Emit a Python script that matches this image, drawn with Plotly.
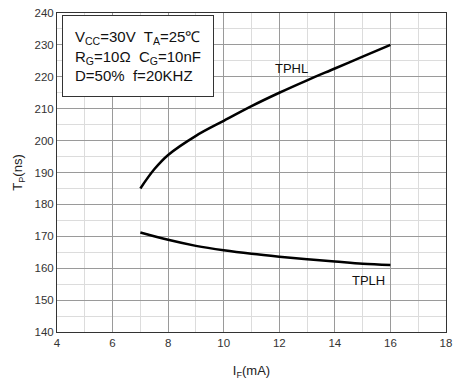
import plotly.graph_objects as go

# Data
if_tphl = [7, 7.5, 8, 9, 10, 11, 12, 13, 14, 15, 16]
tphl = [185, 191, 195.5, 201.5, 206.2, 210.8, 215, 218.9, 222.6, 226.3, 230]
if_tplh = [7, 8, 9, 10, 11, 12, 13, 14, 15, 16]
tplh = [171.2, 168.9, 167.0, 165.6, 164.5, 163.6, 162.8, 162.1, 161.4, 161.0]

x_ticks = [4, 6, 8, 10, 12, 14, 16, 18]
y_ticks = [140, 150, 160, 170, 180, 190, 200, 210, 220, 230, 240]

FONT = "Liberation Sans, Arial, sans-serif"

fig = go.Figure()
fig.add_trace(go.Scatter(x=if_tphl, y=tphl, mode="lines",
                         line=dict(color="black", width=2.5, shape="spline"),
                         showlegend=False, hoverinfo="skip"))
fig.add_trace(go.Scatter(x=if_tplh, y=tplh, mode="lines",
                         line=dict(color="black", width=2.5, shape="spline"),
                         showlegend=False, hoverinfo="skip"))

fig.add_annotation(x=12.45, y=222.6, text="TPHL", showarrow=False,
                   font=dict(family=FONT, size=13, color="#111"))
fig.add_annotation(x=15.2, y=156.1, text="TPLH", showarrow=False,
                   font=dict(family=FONT, size=13, color="#111"))

fig.add_annotation(
    xref="paper", yref="paper", x=0.013, y=0.994, xanchor="left", yanchor="top",
    text="V<sub>CC</sub>=30V  T<sub>A</sub>=25℃<br>R<sub>G</sub>=10Ω  C<sub>G</sub>=10nF<br>D=50%  f=20KHZ",
    showarrow=False, align="left", bordercolor="#333", borderwidth=1, borderpad=12,
    bgcolor="white", font=dict(family=FONT, size=15, color="#111"))

axis_common = dict(
    showline=True, linecolor="#333", linewidth=1, mirror=True,
    showgrid=True, gridcolor="#9a9a9a", gridwidth=1,
    ticks="", zeroline=False,
    tickfont=dict(family=FONT, size=11.5, color="#333"),
)

fig.update_xaxes(range=[4, 18], tickvals=x_ticks,
                 minor=dict(dtick=1, showgrid=True, gridcolor="#dcdcdc", gridwidth=1),
                 title=dict(text="I<sub>F</sub>(mA)", font=dict(family=FONT, size=13, color="#222"), standoff=18),
                 **axis_common)
fig.update_yaxes(range=[140, 240], tickvals=y_ticks,
                 minor=dict(dtick=5, showgrid=True, gridcolor="#dcdcdc", gridwidth=1),
                 title=dict(text="T<sub>P</sub>(ns)", font=dict(family=FONT, size=13, color="#222"), standoff=8),
                 **axis_common)

fig.update_layout(
    width=459, height=383,
    margin=dict(l=57, r=7, t=11, b=51),
    paper_bgcolor="white", plot_bgcolor="white",
)

fig.write_html("out.html")
